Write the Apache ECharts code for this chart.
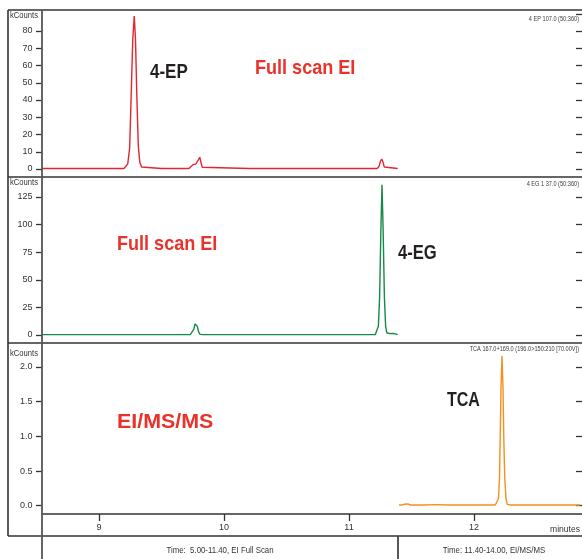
<!DOCTYPE html>
<html>
<head>
<meta charset="utf-8">
<script src="https://cdn.jsdelivr.net/npm/echarts@6/dist/echarts.min.js"></script>
<style>
html,body{margin:0;padding:0;background:#fff;}
#c{width:582px;height:559px;}
</style>
</head>
<body>
<div id="c"></div>
<script>
// ---- data (time in minutes, intensity in kCounts) ----
const trace4EP = [
  [8.544,0.3],[8.8,0.3],[9.0,0.3],[9.2,0.3],[9.215,1],[9.23,3],[9.245,12],[9.258,44],[9.27,75],[9.282,88.7],
  [9.292,75],[9.302,44],[9.314,14],[9.326,4],[9.34,1.2],[9.355,0.4],[9.5,0.3],[9.72,0.3],[9.736,0.6],
  [9.752,2.5],[9.765,3.4],[9.775,3.0],[9.785,4.2],[9.796,5.5],[9.806,6.8],[9.815,4],[9.826,1],[9.836,0.3],
  [10.2,0.3],[10.6,0.3],[11.01,0.3],[11.025,0.9],[11.04,0.3],[11.225,0.3],[11.24,1.5],[11.252,4.5],
  [11.262,5.8],[11.272,4.0],[11.282,1.2],[11.295,0.3],[11.39,0.3]
];
const trace4EG = [
  [8.544,0.3],[9.0,0.3],[9.4,0.3],[9.73,0.3],[9.745,1],[9.758,5],[9.768,10],[9.776,11],[9.786,8],[9.796,3],
  [9.808,0.6],[9.83,0.3],[10.3,0.3],[10.8,0.3],[11.21,0.3],[11.222,1],[11.235,8],[11.245,35],[11.255,95],
  [11.264,136],[11.273,95],[11.283,35],[11.293,8],[11.302,2],[11.31,1.2],[11.318,1.8],[11.326,1.2],
  [11.334,2.3],[11.342,2.0],[11.35,1.3],[11.36,1.5],[11.37,1.0],[11.38,0.6],[11.39,0.4]
];
const traceTCA = [
  [11.40,0.01],[11.42,0.01],[11.44,0.02],[11.455,0.04],[11.47,0.025],[11.49,0.01],[11.6,0.01],[11.7,0.015],
  [11.8,0.01],[12.0,0.01],[12.1,0.012],[12.17,0.01],[12.186,0.03],[12.196,0.1],[12.204,0.4],[12.21,1.0],
  [12.216,1.7],[12.224,2.157],[12.232,1.7],[12.238,1.0],[12.246,0.4],[12.256,0.1],[12.266,0.02],
  [12.29,0.01],[12.4,0.012],[12.5,0.01],[12.6,0.012],[12.7,0.01],[12.85,0.01]
];
const panelNames = ['4 EP 107.0 (50:360)', '4 EG 1 37.0 (50:360)', 'TCA 167.0+169.0 (196.0>150:210 [70.00V])'];
const compoundLabels = ['4-EP', '4-EG', 'TCA'];
const modeLabels = ['Full scan EI', 'Full scan EI', 'EI/MS/MS'];
const segmentLabels = ['Time:  5.00-11.40, EI Full Scan', 'Time: 11.40-14.00, EI/MS/MS'];
const yRanges = [[0, 90, 10], [0, 125, 25], [0, 2.0, 0.5]];
const leftTickValues = [[0,10,20,30,40,50,60,70,80], [0,25,50,75,100,125], [0,0.5,1.0,1.5,2.0]];
const xRange = [8, 13, 1];
const yUnit = 'kCounts';
const xUnit = 'minutes';

// ---- style / layout ----
const FONT = '"Liberation Sans",Arial,sans-serif';
const INK = '#333';
const colors = ['#e5252d', '#168a48', '#f5901e'];
const grids = [
  {left:-26, width:625, top:13.75, height:155.25},
  {left:-26, width:625, top:197, height:138},
  {left:-26, width:625, top:367, height:138.7}
];

const chart = echarts.init(document.getElementById('c'), null, {renderer:'canvas'});

const xAxes = grids.map((g, i) => ({
  type:'value', gridIndex:i, min:xRange[0], max:xRange[1], interval:xRange[2],
  show: i === 2, offset: i === 2 ? 8.3 : 0,
  axisLine:{show:false, onZero:false}, splitLine:{show:false},
  axisTick:{show:true, length:7, lineStyle:{color:INK, width:1.3}},
  axisLabel:{show:true, fontSize:9, fontFamily:FONT, color:INK, margin:9}
}));

const yAxes = [];
grids.forEach((g, i) => {
  const [mn, mx, iv] = yRanges[i];
  const fmt = v => {
    if (i === 0 && v === 90) return '';
    return i === 2 ? v.toFixed(1) : String(v);
  };
  yAxes.push({
    type:'value', gridIndex:i, position:'left', offset:-68, min:mn, max:mx, interval:iv,
    axisLine:{show:false, onZero:false}, splitLine:{show:false},
    axisTick:{show:true, length:6, customValues:leftTickValues[i], lineStyle:{color:INK, width:1.3}},
    axisLabel:{fontSize:9, fontFamily:FONT, color:INK, margin:9.5, formatter:fmt, customValues:leftTickValues[i]}
  });
  yAxes.push({
    type:'value', gridIndex:i, position:'right', offset:-17, min:mn, max:mx, interval:iv,
    axisLine:{show:false, onZero:false}, splitLine:{show:false},
    axisTick:{show:true, inside:true, length:6, lineStyle:{color:INK, width:1.3}},
    axisLabel:{show:false}
  });
});

const traces = [trace4EP, trace4EG, traceTCA];
const series = traces.map((d, i) => ({
  type:'line', xAxisIndex:i, yAxisIndex:i*2, data:d, showSymbol:false, symbol:'none',
  clip:false, animation:false, lineStyle:{color:colors[i], width:1.4}, itemStyle:{color:colors[i]}
}));

function ln(x1,y1,x2,y2,w,c){
  return {type:'line', silent:true, z:100, shape:{x1,y1,x2,y2}, style:{stroke:c||INK, lineWidth:w||1.6}};
}
function txt(x,y,text,size,color,weight,align,sx){
  return {type:'text', silent:true, z:100, x, y, scaleX:sx||1,
    style:{text, x:0, y:0, fill:color, font:(weight||'normal')+' '+size+'px '+FONT,
      textAlign:align||'left', textVerticalAlign:'middle'}};
}

const BLACK = '#231f20', RED = '#e8322a';
const graphic = [
  // frame
  ln(8,10,590,10), ln(8,10,8,536), ln(8,536,590,536),
  ln(8,177,590,177), ln(8,343,590,343),
  ln(42,514,590,514),
  ln(42,10,42,559,1.8,'#555'),
  ln(398,536,398,559,1.8,'#444'),
  // unit labels
  txt(10,16,yUnit,9,INK,'normal','left',0.85), txt(10,183,yUnit,9,INK,'normal','left',0.85),
  txt(10,354,yUnit,9,INK,'normal','left',0.85),
  txt(580,530,xUnit,9,INK,'normal','right',0.95),
  // panel headers
  txt(579,19,panelNames[0],6.6,'#3a3a3a','normal','right',0.85),
  txt(579,184,panelNames[1],6.6,'#3a3a3a','normal','right',0.85),
  txt(579,349,panelNames[2],6.6,'#3a3a3a','normal','right',0.85),
  // annotations
  txt(150,72,compoundLabels[0],20,BLACK,'bold','left',0.85),
  txt(398,253,compoundLabels[1],20,BLACK,'bold','left',0.83),
  txt(447,400,compoundLabels[2],20,BLACK,'bold','left',0.8),
  txt(255,68,modeLabels[0],21,RED,'bold','left',0.86),
  txt(117,244,modeLabels[1],21,RED,'bold','left',0.86),
  txt(117,422,modeLabels[2],21,RED,'bold','left',1.02),
  // bottom segment captions
  txt(220,551,segmentLabels[0],9,INK,'normal','center',0.87),
  txt(494,551,segmentLabels[1],9,INK,'normal','center',0.87)
];

chart.setOption({
  animation:false,
  backgroundColor:'#fff',
  grid: grids.map(g => Object.assign({outerBoundsMode:'none', containLabel:false}, g)),
  xAxis:xAxes, yAxis:yAxes, series, graphic
});
</script>
</body>
</html>
